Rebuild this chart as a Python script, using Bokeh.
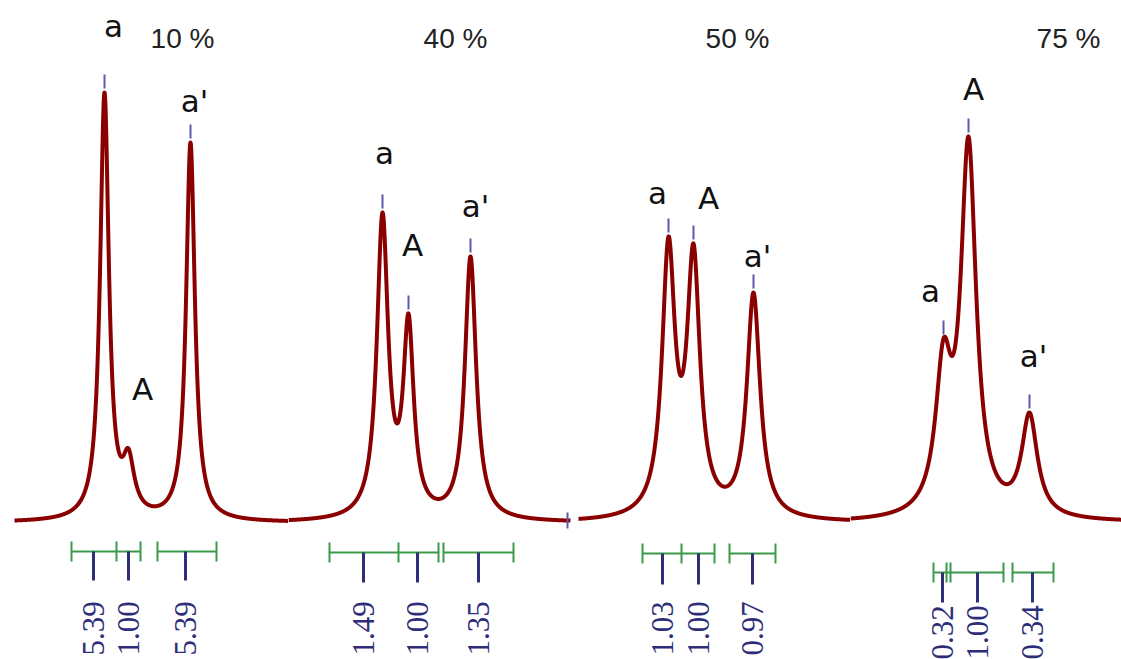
import numpy as np
from bokeh.plotting import figure
from bokeh.layouts import row
from bokeh.models import Range1d
from bokeh.core.properties import value
from bokeh.embed import file_html
from bokeh.resources import INLINE

# ---------------- data ----------------
titles = ["10 %", "40 %", "50 %", "75 %"]
peak_names = ["a", "A", "a'"]

# shift positions (arbitrary shift units), apparent peak heights, half widths
pos_10 = [104, 128, 190]
hgt_10 = [430, 74, 380]
wid_10 = [5.3, 7.0, 5.3]

pos_40 = [382, 408, 470]
hgt_40 = [310, 209, 266]
wid_40 = [6.8, 6.3, 6.8]

pos_50 = [668, 693, 753]
hgt_50 = [286, 279, 230]
wid_50 = [7.8, 7.8, 8.0]

pos_75 = [943, 968, 1029]
hgt_75 = [184, 386, 110]
wid_75 = [9.5, 9.3, 9.5]

# integral values and where their markers sit
int_10 = ["5.39", "1.00", "5.39"]
int_x_10 = [93, 128, 185]
int_40 = ["1.49", "1.00", "1.35"]
int_x_40 = [363, 417, 478]
int_50 = ["1.03", "1.00", "0.97"]
int_x_50 = [662, 698, 752]
int_75 = ["0.32", "1.00", "0.34"]
int_x_75 = [942, 977, 1032]

# integration ranges (start, end) and bracket ticks
rng_10 = [(71, 140), (157, 216)]
tick_10 = [71, 116, 140, 157, 216]
rng_40 = [(329, 438), (443, 513)]
tick_40 = [329, 398, 438, 443, 513]
rng_50 = [(642, 714), (729, 775)]
tick_50 = [642, 681, 714, 729, 775]
rng_75 = [(933, 1003), (1012, 1053)]
tick_75 = [933, 946, 950, 1003, 1012, 1053]

# ---------------- styling / layout ----------------
CURVE = "#8a0000"
PEAKTICK = "#5a5ab0"
NAVY = "#2d2d78"
GREEN = "#3a9a4a"

Y0, Y1 = -137, 522           # intensity window of every panel
FIG_H = 659

panels = [
    dict(title=titles[0], pos=pos_10, hgt=hgt_10, wid=wid_10, ints=int_10, ix=int_x_10,
         rng=rng_10, ticks=tick_10, xr=(0, 288), span=(14, 288), br=-29, lab_y=-133,
         title_x=182, name_xy=[(113, 497), (142, 134), (194, 422)], tick_on=[True, False, True],
         stem=29),
    dict(title=titles[1], pos=pos_40, hgt=hgt_40, wid=wid_40, ints=int_40, ix=int_x_40,
         rng=rng_40, ticks=tick_40, xr=(288, 574), span=(288, 570), br=-30, lab_y=-133,
         title_x=455, name_xy=[(384, 370), (412, 278), (475, 317)], tick_on=[True, True, True],
         stem=30),
    dict(title=titles[2], pos=pos_50, hgt=hgt_50, wid=wid_50, ints=int_50, ix=int_x_50,
         rng=rng_50, ticks=tick_50, xr=(574, 850), span=(578, 850), br=-31, lab_y=-133,
         title_x=737, name_xy=[(657, 330), (708, 325), (757, 267)], tick_on=[True, True, True],
         stem=31),
    dict(title=titles[3], pos=pos_75, hgt=hgt_75, wid=wid_75, ints=int_75, ix=int_x_75,
         rng=rng_75, ticks=tick_75, xr=(850, 1121), span=(850, 1121), br=-50, lab_y=-137,
         title_x=1068, name_xy=[(930, 232), (973, 434), (1033, 167)], tick_on=[True, True, True],
         stem=30),
]

figs = []
for i, pn in enumerate(panels):
    w = pn["xr"][1] - pn["xr"][0]
    p = figure(width=w, height=FIG_H, output_backend="svg", toolbar_location=None,
               x_range=Range1d(*pn["xr"]), y_range=Range1d(Y0, Y1),
               x_axis_location=None, y_axis_location=None, min_border=0,
               outline_line_color=None, background_fill_color="white",
               border_fill_color="white")
    p.grid.visible = False

    pos = np.array(pn["pos"], float)
    hgt = np.array(pn["hgt"], float)
    wid = np.array(pn["wid"], float)
    # amplitudes so that the summed lines reach the read heights at the peak positions
    M = wid[None, :] ** 2 / ((pos[:, None] - pos[None, :]) ** 2 + wid[None, :] ** 2)
    amp = np.linalg.solve(M, hgt)
    xs = np.linspace(pn["span"][0], pn["span"][1], 1500)
    ys = np.zeros_like(xs)
    for a, c, g in zip(amp, pos, wid):
        ys += a * g ** 2 / ((xs - c) ** 2 + g ** 2)
    p.line(xs, ys, line_color=CURVE, line_width=4, line_join="round")

    # peak-pick ticks
    tx = [c for c, on in zip(pn["pos"], pn["tick_on"]) if on]
    th = [h for h, on in zip(pn["hgt"], pn["tick_on"]) if on]
    p.segment(x0=tx, y0=[h + 4 for h in th], x1=tx, y1=[h + 18 for h in th],
              line_color=PEAKTICK, line_width=2)
    if i == 1:
        p.segment(x0=[567], y0=[-6], x1=[567], y1=[10], line_color=PEAKTICK, line_width=2)

    # peak names
    p.text(x=[xy[0] for xy in pn["name_xy"]], y=[xy[1] for xy in pn["name_xy"]],
           text=peak_names, text_font=value("DejaVu Sans"), text_font_size="31px",
           text_color="#111111", text_align="center", text_baseline="middle")

    # title
    p.text(x=[pn["title_x"]], y=[484], text=[pn["title"]], text_font=value("Liberation Sans"),
           text_font_size="28px", text_color="#222222", text_align="center",
           text_baseline="middle")

    # integration brackets
    br = pn["br"]
    p.segment(x0=[r[0] for r in pn["rng"]], y0=[br] * len(pn["rng"]),
              x1=[r[1] for r in pn["rng"]], y1=[br] * len(pn["rng"]),
              line_color=GREEN, line_width=2)
    p.segment(x0=pn["ticks"], y0=[br - 10] * len(pn["ticks"]),
              x1=pn["ticks"], y1=[br + 10] * len(pn["ticks"]),
              line_color=GREEN, line_width=2)
    # integral stems
    p.segment(x0=pn["ix"], y0=[br] * 3, x1=pn["ix"], y1=[br - pn["stem"]] * 3,
              line_color=NAVY, line_width=3)
    # integral values
    p.text(x=pn["ix"], y=[pn["lab_y"]] * 3, text=pn["ints"], angle=np.pi / 2,
           text_font=value("Liberation Sans Narrow"), text_font_size="31px",
           text_color=NAVY, text_align="left", text_baseline="middle")
    figs.append(p)

layout = row(*figs, spacing=0)
open("out.html", "w").write(file_html(layout, INLINE))
